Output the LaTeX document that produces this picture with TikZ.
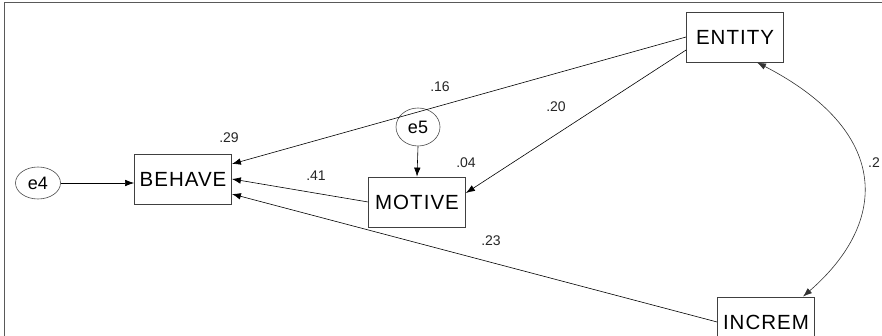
\documentclass[tikz,border=0pt]{standalone}
\usepackage{fontspec}
\setmainfont{Liberation Sans}
\usetikzlibrary{arrows.meta, shapes.geometric}

\tikzset{
    var/.style={draw=black!75, line width=0.8pt, minimum width=97pt, minimum height=50pt, inner sep=0pt,
        font=\addfontfeature{LetterSpace=5}\fontsize{20.5}{24}\selectfont},
    err/.style={draw=black!70, line width=0.6pt, ellipse, inner sep=0pt, font=\fontsize{18}{21}\selectfont},
    coef/.style={font=\fontsize{14}{16}\selectfont, text=black!85},
    path/.style={->, >={Latex[length=9pt,width=6.5pt]}, line width=0.6pt}
}

\begin{document}
\begin{tikzpicture}[x=1pt, y=-1pt]
    \clip (0,0) rectangle (882,336);
    \fill [white] (0,0) rectangle (882,336);
    % frame
    \draw [black!65, line width=1.5pt] (4.5,340) -- (4.5,2.5) -- (890,2.5);

    \node [var] (behave) at (183,179) {BEHAVE};
    \node [var] (motive) at (417,202) {MOTIVE};
    \node [var] (entity) at (735,37) {ENTITY};
    \node [var] (increm) at (766,322) {INCREM};
    \node [err, minimum width=45pt, minimum height=32pt] (e4) at (38,183) {e4};
    \node [err, minimum width=44pt, minimum height=38pt] (e5) at (418,127) {e5};

    \draw [path] (e4.east) -- (behave.west |- e4.east);
    \draw [path] (e5.south) -- (motive.north);
    \draw [path] (entity.west) -- ([yshift=15pt]behave.east);
    \draw [path] ([yshift=-13pt]entity.west) -- ([yshift=9pt]motive.east);
    \draw [path] (motive.west) -- (behave.east);
    \draw [path] (increm.west) -- ([yshift=-15pt]behave.east);
    \draw [<->, >={Latex[length=9pt,width=6.5pt]}, black!80, line width=0.6pt]
        ([xshift=22pt]entity.south) .. controls (890,131) and (890,221) .. ([xshift=37pt]increm.north);

    \node [coef] at (229,138) {.29};
    \node [coef] at (440,87) {.16};
    \node [coef] at (556,107) {.20};
    \node [coef] at (466,163) {.04};
    \node [coef] at (316,176) {.41};
    \node [coef] at (491,241) {.23};
    \node [coef, anchor=west, inner sep=0pt] at (868,163) {.2};
\end{tikzpicture}
\end{document}
